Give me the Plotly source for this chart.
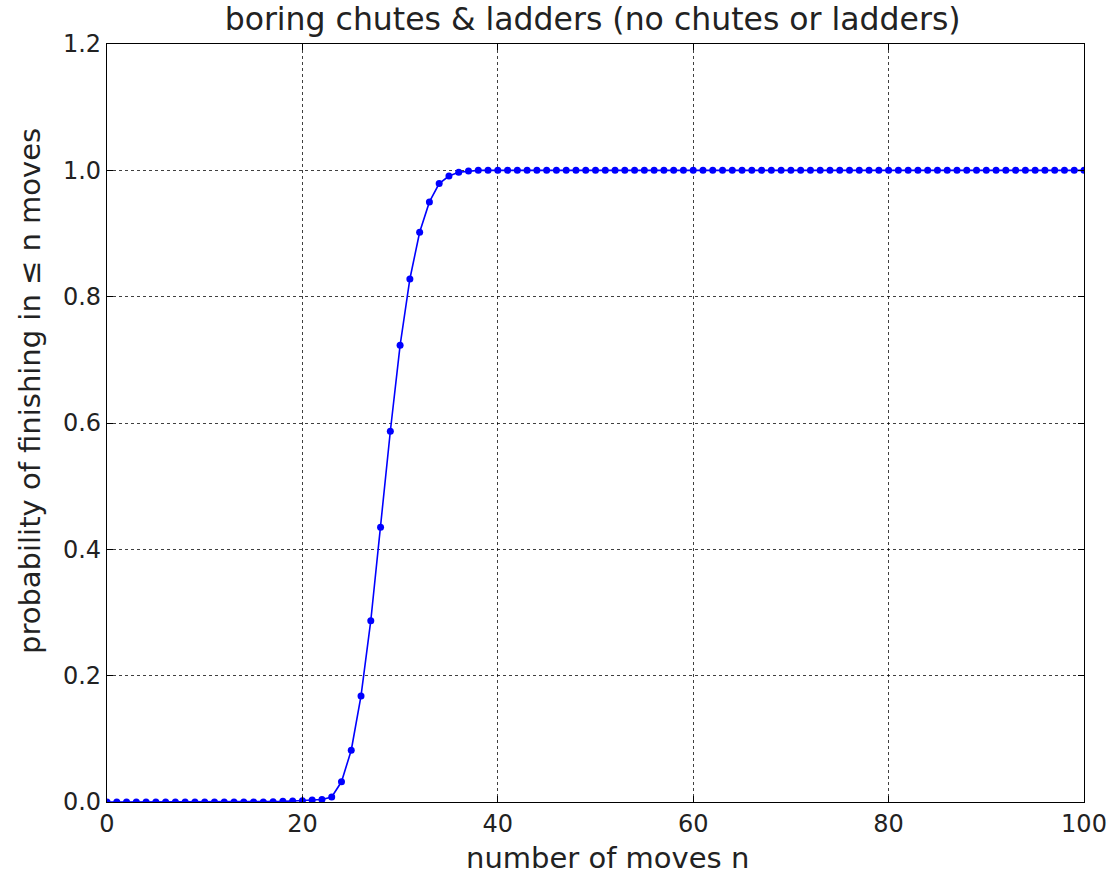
import plotly.graph_objects as go

n_moves = list(range(0, 101))
early = [0.0]*17 + [0.0005, 0.001, 0.0015, 0.002, 0.003, 0.004]  # n = 0..22
rise = [0.008, 0.032, 0.082, 0.168, 0.287, 0.435, 0.587, 0.723, 0.828, 0.902,
        0.950, 0.979, 0.991, 0.997, 0.999]  # n = 23..37
late = [1.0] * (101 - len(early) - len(rise))
prob = early + rise + late

x_ticks = [0, 20, 40, 60, 80, 100]
y_ticks = [0.0, 0.2, 0.4, 0.6, 0.8, 1.0, 1.2]

fig = go.Figure()
fig.add_trace(go.Scatter(
    x=n_moves, y=prob, mode="lines+markers",
    line=dict(color="#0000ff", width=1.6),
    marker=dict(color="#0000ff", size=7),
    showlegend=False,
))

axis_common = dict(
    showline=True, linecolor="black", linewidth=1.3, mirror="allticks",
    ticks="inside", ticklen=6, tickcolor="black",
    showgrid=True, gridcolor="rgba(0,0,0,0.75)", griddash="dot", gridwidth=1,
    zeroline=False, tickfont=dict(size=24, color="#222222"), automargin=False,
)

fig.update_layout(
    width=1114, height=877,
    margin=dict(l=107, r=30, t=44, b=75),
    paper_bgcolor="white", plot_bgcolor="white",
    font=dict(family="DejaVu Sans", color="#222222"),
    title=dict(text="boring chutes & ladders (no chutes or ladders)",
               x=0.532, xanchor="center", y=1 - 8/877, yanchor="top",
               font=dict(size=31.5, color="#222222")),
    xaxis=dict(range=[0, 100], tickvals=x_ticks, ticktext=[str(v) for v in x_ticks],
               **axis_common),
    yaxis=dict(range=[0, 1.2], tickvals=y_ticks, ticktext=[f"{v:.1f}" for v in y_ticks],
               **axis_common),
    annotations=[
        dict(text="number of moves n", xref="paper", yref="paper",
             x=0.5118, y=-0.0739, xanchor="center", yanchor="middle",
             showarrow=False, font=dict(size=29, color="#222222")),
        dict(text="probability of finishing in ≤ n moves", xref="paper", yref="paper",
             x=-0.0788, y=0.5422, xanchor="center", yanchor="middle", textangle=-90,
             showarrow=False, font=dict(size=29, color="#222222")),
    ],
)

fig.write_html("out.html")
